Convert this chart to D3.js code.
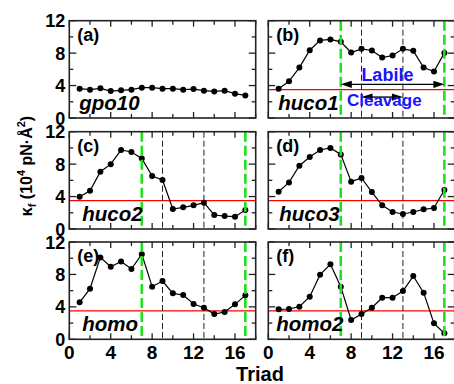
<!DOCTYPE html>
<html><head><meta charset="utf-8">
<script src="https://cdn.jsdelivr.net/npm/d3@7"></script>
<style>body{margin:0;background:#fff}svg{display:block}</style>
</head><body>
<svg id="chart" width="454" height="384"></svg>
<script>
const triad = [1,2,3,4,5,6,7,8,9,10,11,12,13,14,15,16,17];
const gpo10 = [3.62,3.49,3.66,3.32,3.41,3.49,3.74,3.74,3.62,3.62,3.49,3.57,3.37,3.28,3.37,3.0,2.79];
const huco1 = [3.62,4.52,6.22,8.36,9.57,9.69,9.39,8.08,8.53,8.33,7.46,7.71,8.53,8.28,6.22,5.73,8.03];
const huco2 = [3.98,4.72,7.07,8.0,9.74,9.5,8.7,6.53,6.04,2.47,2.67,2.92,3.25,1.73,1.6,1.52,2.34];
const huco3 = [4.6,5.75,7.8,8.88,9.74,10.0,9.2,5.84,6.29,4.56,2.92,2.1,1.85,2.1,2.43,2.59,4.81];
const homo  = [4.56,6.24,10.1,8.95,9.6,8.67,10.5,6.49,7.19,5.67,5.46,4.35,3.9,3.12,3.37,4.31,5.42];
const homo2 = [3.7,3.74,4.02,5.25,7.97,9.25,6.49,2.38,3.12,3.9,5.13,5.13,5.96,7.8,5.75,1.97,0.74];
const panelNames = ["gpo10","huco1","huco2","huco3","homo","homo2"];
const panelLetters = ["(a)","(b)","(c)","(d)","(e)","(f)"];
const xTicks = [0,2,4,6,8,10,12,14,16,18];
const xTickLabels = [0,4,8,12,16];
const yTicks = [0,2,4,6,8,10,12];
const yTickLabels = [0,4,8,12];
const refLevel = 3.5;
const greenLines = [7,17];
const blackLines = [9,13];
const labileRange = [7,17], labileLevel = 4.15;
const cleavageRange = [9,13], cleavageLevel = 2.58;

const series = [gpo10,huco1,huco2,huco3,homo,homo2];
const svg = d3.select("#chart");
const font = "'Liberation Sans', Arial, Helvetica, sans-serif";
const colLeft = [69.3, 268.3], pw = 186.4;
const rowTop = [20.7, 131.7, 242], ph = 97.3;
const nameOffset = [10, 10, 13, 11, 13, 8];

panelNames.forEach((name, i) => {
  const col = i % 2, row = Math.floor(i / 2);
  const L = colLeft[col], T = rowTop[row];
  const x = d3.scaleLinear().domain([0,18]).range([L, L+pw]);
  const y = d3.scaleLinear().domain([0,12]).range([T+ph, T]);
  const g = svg.append("g");
  const vals = series[i];

  const xt = (t) => (t % 4 === 0 ? 6 : 4);
  const yt = (t) => (t % 4 === 0 ? 7 : 4);
  const tk = g.append("g").attr("stroke","#222").attr("stroke-width",1.3);
  xTicks.forEach(t => {
    tk.append("line").attr("x1",x(t)).attr("x2",x(t)).attr("y1",T+ph).attr("y2",T+ph-xt(t));
    tk.append("line").attr("x1",x(t)).attr("x2",x(t)).attr("y1",T).attr("y2",T+xt(t));
  });
  yTicks.forEach(t => {
    tk.append("line").attr("x1",L).attr("x2",L+yt(t)).attr("y1",y(t)).attr("y2",y(t));
    tk.append("line").attr("x1",L+pw).attr("x2",L+pw-yt(t)).attr("y1",y(t)).attr("y2",y(t));
  });

  if (i > 0) {
    g.append("line").attr("x1",L).attr("x2",L+pw).attr("y1",y(refLevel)).attr("y2",y(refLevel))
      .attr("stroke","#f00").attr("stroke-width",1.4);
    blackLines.forEach(v => g.append("line").attr("x1",x(v)).attr("x2",x(v)).attr("y1",T).attr("y2",T+ph)
      .attr("stroke","#222").attr("stroke-width",1).attr("stroke-dasharray","6,3"));
  }

  const line = d3.line().x((d,j) => x(triad[j])).y(d => y(d));
  g.append("path").attr("d", line(vals)).attr("fill","none").attr("stroke","#000").attr("stroke-width",1.2);
  g.selectAll("circle.p").data(vals).enter().append("circle")
    .attr("cx",(d,j)=>x(triad[j])).attr("cy",d=>y(d)).attr("r",3).attr("fill","#000");

  if (i > 0) {
    greenLines.forEach(v => g.append("line").attr("x1",x(v)).attr("x2",x(v)).attr("y1",T).attr("y2",T+ph)
      .attr("stroke","#1ee01e").attr("stroke-width",2.6).attr("stroke-dasharray","10,4"));
  }

  g.append("rect").attr("x",L).attr("y",T).attr("width",pw).attr("height",ph)
    .attr("fill","none").attr("stroke","#222").attr("stroke-width",1.6);

  g.append("text").attr("x",L+8).attr("y",T+20).attr("font-family",font).attr("font-weight","bold")
    .attr("font-size",18).text(panelLetters[i]);
  g.append("text").attr("x",L+nameOffset[i]).attr("y",T+ph-8.5).attr("font-family",font).attr("font-weight","bold")
    .attr("font-style","italic").attr("font-size",20.5).text(name);

  if (col === 0) {
    yTickLabels.forEach(t => g.append("text").attr("x",L-4).attr("y",y(t)+6.5).attr("text-anchor","end")
      .attr("font-family",font).attr("font-weight","bold").attr("font-size",18).text(t));
  }
  if (row === 2) {
    xTickLabels.forEach(t => g.append("text").attr("x",x(t)).attr("y",T+ph+20).attr("text-anchor","middle")
      .attr("font-family",font).attr("font-weight","bold").attr("font-size",19).text(t));
  }

  if (i === 1) {
    const arrow = (r, lev) => {
      const x0 = x(r[0]), x1 = x(r[1]), yy = y(lev);
      g.append("line").attr("x1",x0+8).attr("x2",x1-8).attr("y1",yy).attr("y2",yy).attr("stroke","#000").attr("stroke-width",1.4);
      g.append("path").attr("d",`M${x0},${yy}L${x0+11},${yy-3.6}L${x0+11},${yy+3.6}Z`).attr("fill","#000");
      g.append("path").attr("d",`M${x1},${yy}L${x1-11},${yy-3.6}L${x1-11},${yy+3.6}Z`).attr("fill","#000");
    };
    arrow(labileRange, labileLevel);
    arrow(cleavageRange, cleavageLevel);
    g.append("text").attr("x",x(11.5)).attr("y",y(labileLevel)-3).attr("text-anchor","middle")
      .attr("font-family",font).attr("font-weight","bold").attr("font-size",18).attr("fill","#1515ff").text("Labile");
    g.append("text").attr("x",x(11.2)).attr("y",y(cleavageLevel)+9).attr("text-anchor","middle")
      .attr("font-family",font).attr("font-weight","bold").attr("font-size",17).attr("fill","#1515ff").text("Cleavage");
  }
});

svg.append("text").attr("x",260).attr("y",380.5).attr("text-anchor","middle").attr("font-family",font)
  .attr("font-weight","bold").attr("font-size",20).text("Triad");

const yl = svg.append("text").attr("transform","translate(32,166) rotate(-90)").attr("text-anchor","middle")
  .attr("font-family",font).attr("font-weight","bold").attr("font-size",16);
yl.append("tspan").text("\u03BA");
yl.append("tspan").attr("font-size",11).attr("dy",4).text("f");
yl.append("tspan").attr("dy",-4).text(" (10");
yl.append("tspan").attr("font-size",11).attr("dy",-7).text("4");
yl.append("tspan").attr("dy",7).text(" pN\u00B7\u00C5");
yl.append("tspan").attr("font-size",11).attr("dy",-7).text("2");
yl.append("tspan").attr("dy",7).text(")");
</script>
</body></html>
